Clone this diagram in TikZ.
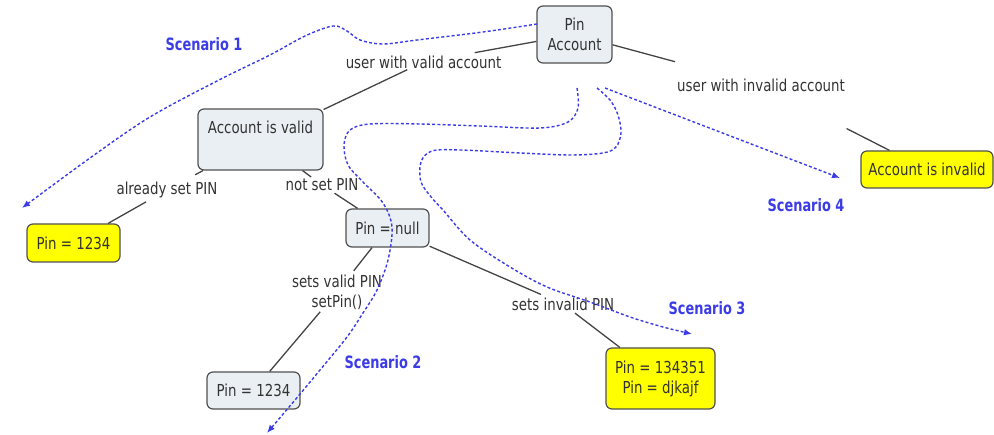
\documentclass[tikz,border=0pt]{standalone}
\usepackage{fontspec}
\setmainfont{DejaVu Sans}[FakeStretch=0.81]
\newfontfamily\scenfont{DejaVu Sans}[FakeStretch=0.76]
\usetikzlibrary{arrows.meta}
\definecolor{boxfill}{HTML}{E9EFF2}
\definecolor{boxborder}{HTML}{505050}
\definecolor{textgray}{HTML}{333333}
\definecolor{linegray}{HTML}{444444}
\definecolor{scenblue}{HTML}{3C3CE6}
\definecolor{yfill}{HTML}{FFFF00}
\begin{document}
\begin{tikzpicture}[x=1pt,y=-1pt,
  every node/.style={font=\fontsize{16.5}{20}\selectfont},
  box/.style={draw=boxborder, line width=1.2pt, rounded corners=6pt, fill=boxfill, text=textgray, inner sep=0pt, align=center},
  ybox/.style={box, fill=yfill},
  lbl/.style={text=textgray, inner sep=1pt, align=center},
  conn/.style={draw=linegray, line width=1.3pt},
  scen/.style={draw=scenblue, line width=1.4pt, dash pattern=on 3pt off 2.2pt, -{Latex[length=8pt,width=6.5pt]}},
  stext/.style={text=scenblue, font=\scenfont\fontsize{17}{20}\selectfont\bfseries}
]
\useasboundingbox (0,0) rectangle (994,435);

% boxes
\node[box, minimum width=75pt, minimum height=57pt] (pinacc) at (574.5,34.5) {Pin\\Account};
\node[box, minimum width=125pt, minimum height=61pt, text height=11.5pt, text depth=23.5pt] (accvalid) at (260.5,139.5) {Account is valid};
\node[ybox, minimum width=93pt, minimum height=38pt] (pin1) at (73.5,243) {Pin = 1234};
\node[box, minimum width=83pt, minimum height=38pt] (pinnull) at (387.5,228) {Pin = null};
\node[box, minimum width=93pt, minimum height=37pt] (pin2) at (253.5,390.5) {Pin = 1234};
\node[ybox, minimum width=109pt, minimum height=61pt] (pin3) at (660.5,378.5) {Pin = 134351\\Pin = djkajf};
\node[ybox, minimum width=132pt, minimum height=37pt] (accinv) at (927,169.5) {Account is invalid};

% link labels
\node[lbl] (lvalid) at (423.5,62) {user with valid account};
\node[lbl] (linvalid) at (761,85) {user with invalid account};
\node[lbl] (lalready) at (167,190) {already set PIN};
\node[lbl] (lnotset) at (322,185) {not set PIN};
\node[lbl] (lsetsvalid) at (337,292) {sets valid PIN\\setPin()};
\node[lbl] (lsetsinv) at (563,304) {sets invalid PIN};

% connectors
\draw[conn, shorten >=52pt] (pinacc) -- (lvalid.center);
\draw[conn, shorten <=18pt] (lvalid.center) -- (accvalid);
\draw[conn, shorten >=89pt] (pinacc) -- (linvalid.center);
\draw[conn, shorten <=96pt] (linvalid.center) -- (accinv);
\draw[conn, shorten >=32pt] (accvalid) -- (lalready.center);
\draw[conn, shorten <=24pt] (lalready.center) -- (pin1);
\draw[conn, shorten >=13.5pt] (accvalid) -- (lnotset.center);
\draw[conn, shorten <=15pt] (lnotset.center) -- (pinnull);
\draw[conn, shorten >=27pt] (pinnull) -- (lsetsvalid.center);
\draw[conn, shorten <=26pt] (lsetsvalid.center) -- (pin2);
\draw[conn, shorten >=24pt] (pinnull) -- (lsetsinv.center);
\draw[conn, shorten <=15pt] (lsetsinv.center) -- (pin3);

% scenario paths
\draw[scen] plot[smooth, tension=0.55] coordinates {(537,24) (483,32) (417,40) (383,44) (360,40) (347,31) (333,26) (305,36) (270,55) (219,80) (150,117) (90,158) (22,208)};
\draw[scen] plot[smooth, tension=0.55] coordinates {(577,88) (578,108) (568,122) (540,128) (480,126) (420,124) (370,124) (350,130) (344,145) (348,165) (363,182) (383,203) (392,227) (388,260) (377,290) (363,313) (347,337) (320,370) (295,400) (267,433)};
\draw[scen] plot[smooth, tension=0.55] coordinates {(597,88) (610,100) (618,115) (621,133) (616,147) (603,153) (570,155) (520,153) (460,150) (432,151) (421,162) (421,182) (432,198) (443,210) (470,240) (510,267) (547,287) (590,302) (630,317) (663,327) (692,334)};
\coordinate (s4start) at (605,88);
\coordinate (s4end) at (840,178);
\draw[scen] (s4start) -- (s4end);

% scenario labels
\node[stext] (sc1) at (204,44) {Scenario 1};
\node[stext] (sc2) at (383,362) {Scenario 2};
\node[stext] (sc3) at (707,308) {Scenario 3};
\node[stext] (sc4) at (806,205) {Scenario 4};
\end{tikzpicture}
\end{document}
